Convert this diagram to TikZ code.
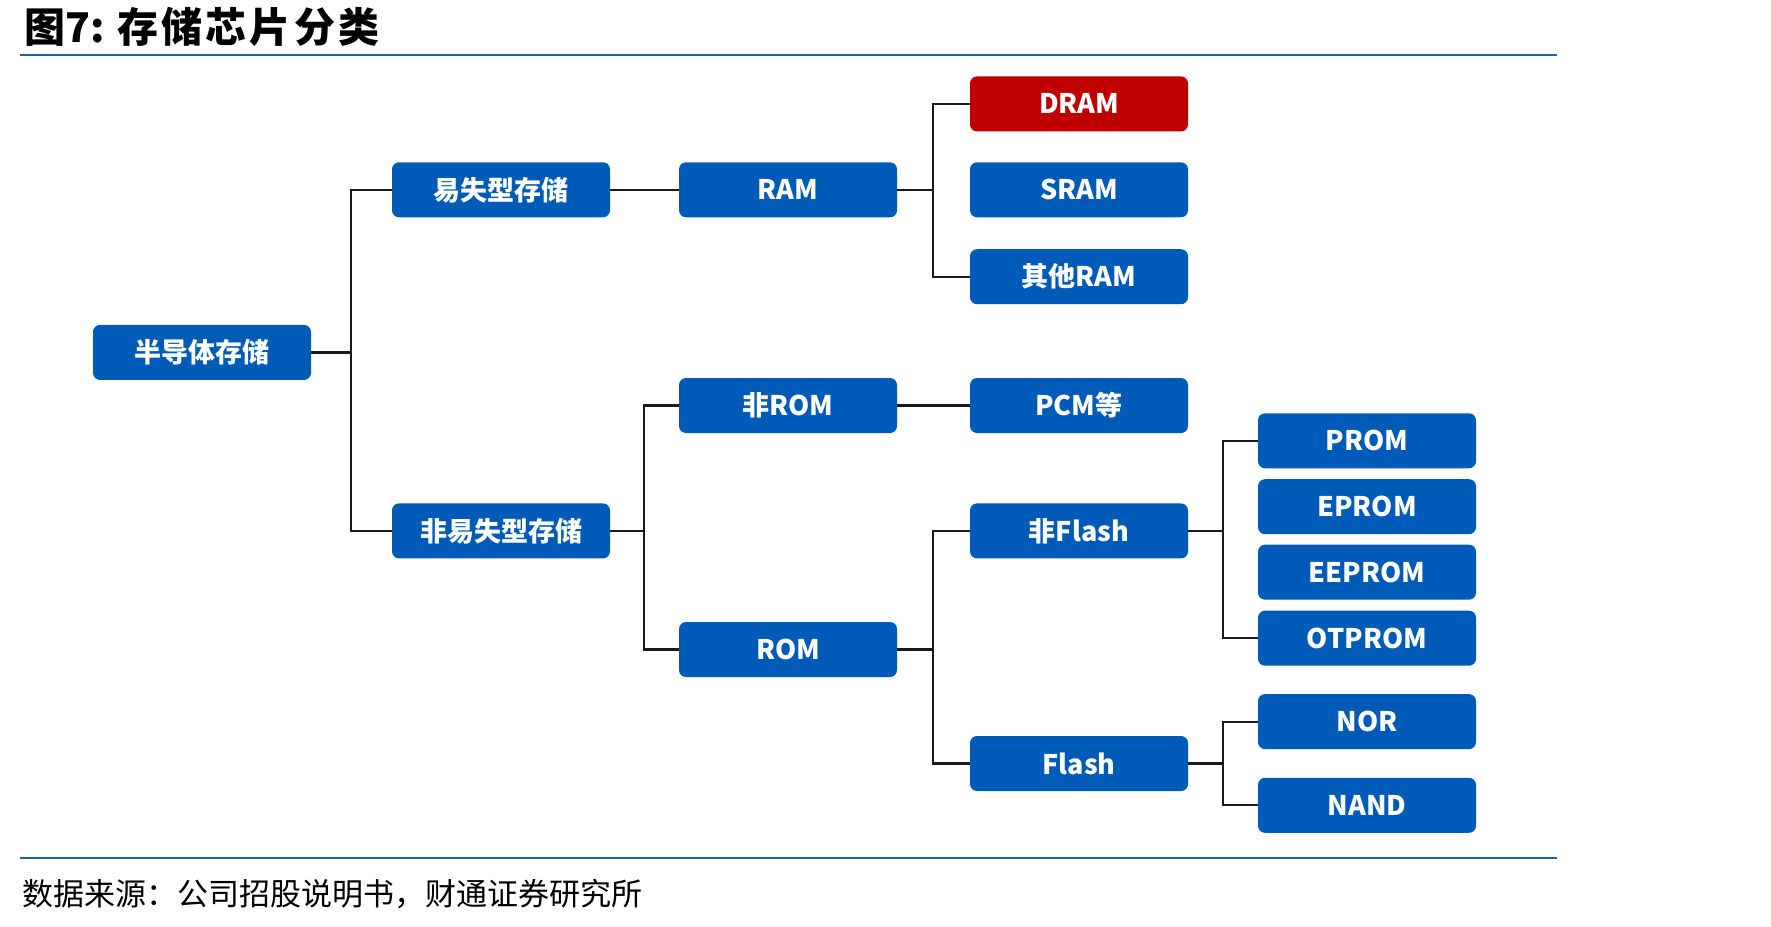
\documentclass[tikz,border=0pt]{standalone}
\usepackage{fontspec}
\setmainfont{Liberation Serif}
\newfontfamily\cjk{Noto Sans CJK SC}
\definecolor{boxblue}{RGB}{0,91,184}
\definecolor{boxred}{RGB}{192,0,0}
\definecolor{ruleblue}{RGB}{32,94,172}
\begin{document}
\begin{tikzpicture}[x=1pt,y=-1pt,
  box/.style={rectangle, rounded corners=7pt, fill=boxblue, text=white,
    minimum width=218pt, minimum height=55pt, inner sep=0pt,
    font=\cjk\bfseries\fontsize{27}{31}\selectfont},
  redbox/.style={box, fill=boxred},
  link/.style={draw=black!90, line width=2.2pt},
  rulestyle/.style={draw=ruleblue, line width=2.2pt}]
\useasboundingbox (0,0) rectangle (1771,926);

% title and rules
\node[anchor=west, inner sep=0pt, font=\cjk\bfseries\fontsize{41}{45}\selectfont] (title) at (24,27) {图7: \addfontfeature{LetterSpace=8}存储芯片分类};
\coordinate (r1a) at (20,55);
\coordinate (r1b) at (1557,55);
\draw[rulestyle] (r1a) -- (r1b);
\coordinate (r2a) at (20,858);
\coordinate (r2b) at (1557,858);
\draw[rulestyle] (r2a) -- (r2b);
\node[anchor=west, inner sep=0pt, font=\cjk\fontsize{31}{35}\selectfont] (src) at (22,894) {数据来源：公司招股说明书，财通证券研究所};

% nodes
\node[box] (semi) at (202,352.4) {半导体存储};
\node[box] (vol) at (501,189.8) {易失型存储};
\node[box] (nvol) at (501,530.9) {非易失型存储};
\node[box] (ram) at (788,189.8) {RAM};
\node[box] (nrom) at (788,405.5) {非ROM};
\node[box] (rom) at (788,649.5) {ROM};
\node[redbox] (dram) at (1079,103.9) {DRAM};
\node[box] (sram) at (1079,189.8) {SRAM};
\node[box] (oram) at (1079,276.7) {其他RAM};
\node[box] (pcm) at (1079,405.5) {PCM等};
\node[box] (nflash) at (1079,530.9) {非Flash};
\node[box] (flash) at (1079,763.5) {Flash};
\node[box] (prom) at (1367,440.8) {PROM};
\node[box] (eprom) at (1367,506.7) {EPROM};
\node[box] (eeprom) at (1367,572.2) {EEPROM};
\node[box] (otprom) at (1367,638.2) {OTPROM};
\node[box] (nor) at (1367,721.6) {NOR};
\node[box] (nand) at (1367,805.3) {NAND};

% bus points
\coordinate (b1) at (351,352.4);
\coordinate (b2) at (644,530.9);
\coordinate (b3) at (933,189.8);
\coordinate (b4) at (933,649.5);
\coordinate (b5) at (1223,530.9);
\coordinate (b6) at (1223,763.5);

% connectors
\draw[link] (semi.east) -- (b1);
\draw[link] (vol.west) -| (b1) |- (nvol.west);
\draw[link] (vol.east) -- (ram.west);
\draw[link] (ram.east) -- (b3);
\draw[link] (dram.west) -| (b3) |- (oram.west);
\draw[link] (nvol.east) -- (b2);
\draw[link] (nrom.west) -| (b2) |- (rom.west);
\draw[link] (nrom.east) -- (pcm.west);
\draw[link] (rom.east) -- (b4);
\draw[link] (nflash.west) -| (b4) |- (flash.west);
\draw[link] (nflash.east) -- (b5);
\draw[link] (prom.west) -| (b5) |- (otprom.west);
\draw[link] (flash.east) -- (b6);
\draw[link] (nor.west) -| (b6) |- (nand.west);
\end{tikzpicture}
\end{document}
